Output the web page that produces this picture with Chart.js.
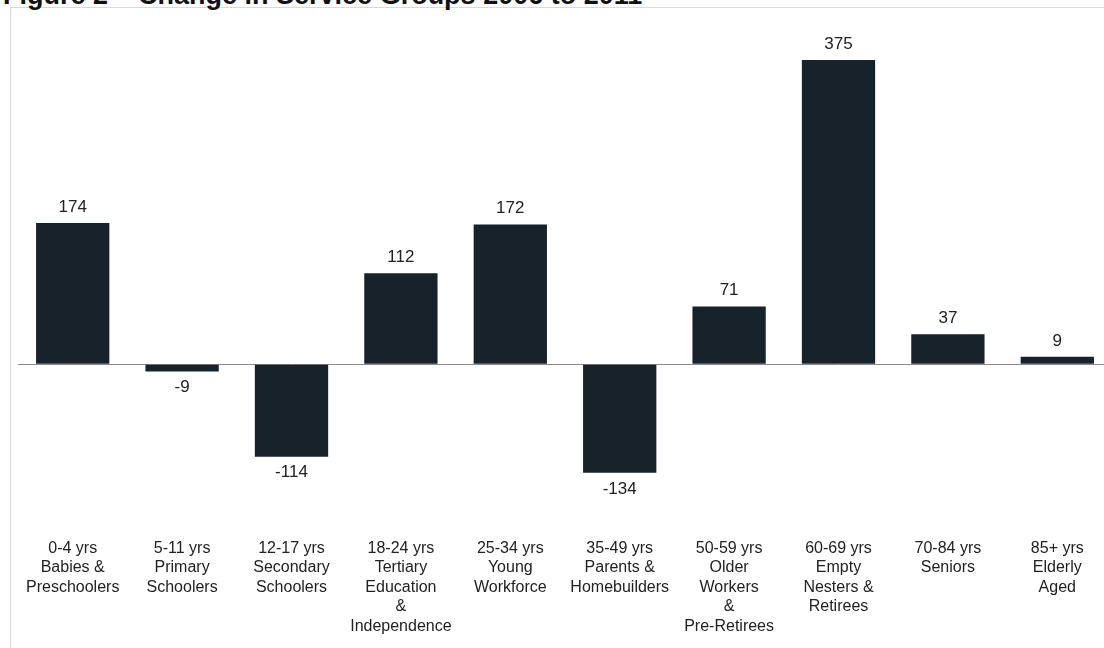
<!DOCTYPE html>
<html>
<head>
<meta charset="utf-8">
<script src="https://cdn.jsdelivr.net/npm/chart.js@4/dist/chart.umd.min.js"></script>
<style>
  html, body { margin: 0; padding: 0; background: #fff; overflow: hidden; width: 1104px; height: 648px; }
  #title { position: absolute; left: 3px; top: -18px; font: bold 27px/27px "Liberation Sans", Arial, sans-serif; color: #111; white-space: nowrap; }
  #box { position: absolute; left: 10px; top: 7px; width: 1200px; height: 700px; border: 1px solid #d9d9d9; }
  #wrap { position: absolute; left: 0; top: 0; width: 1120px; height: 648px; }
</style>
</head>
<body>
<div id="box"></div>
<div id="title">Figure 2 – Change in Service Groups 2006 to 2011</div>
<div id="wrap"><canvas id="chart"></canvas></div>
<script>
const groups = [
    ['0-4 yrs', 'Babies &', 'Preschoolers'],
    ['5-11 yrs', 'Primary', 'Schoolers'],
    ['12-17 yrs', 'Secondary', 'Schoolers'],
    ['18-24 yrs', 'Tertiary', 'Education', '&', 'Independence'],
    ['25-34 yrs', 'Young', 'Workforce'],
    ['35-49 yrs', 'Parents &', 'Homebuilders'],
    ['50-59 yrs', 'Older', 'Workers', '&', 'Pre-Retirees'],
    ['60-69 yrs', 'Empty', 'Nesters &', 'Retirees'],
    ['70-84 yrs', 'Seniors'],
    ['85+ yrs', 'Elderly', 'Aged']
];
const change = [174, -9, -114, 112, 172, -134, 71, 375, 37, 9];

// value labels above / below each bar
const valueLabels = {
    id: 'valueLabels',
    afterDatasetsDraw(chart) {
        const ctx = chart.ctx;
        const meta = chart.getDatasetMeta(0);
        ctx.save();
        ctx.font = '17px "Liberation Sans", Arial, sans-serif';
        ctx.fillStyle = '#222';
        ctx.textAlign = 'center';
        ctx.textBaseline = 'middle';
        meta.data.forEach((bar, i) => {
            const v = change[i];
            const y = v >= 0 ? bar.y - 16 : bar.y + 16;
            ctx.fillText(String(v), bar.x, y);
        });
        ctx.restore();
    }
};

const chart = new Chart(document.getElementById('chart'), {
    type: 'bar',
    data: {
        labels: groups,
        datasets: [{
            data: change,
            backgroundColor: '#18222a',
            borderWidth: 0,
            categoryPercentage: 1,
            barPercentage: 0.67
        }]
    },
    options: {
        responsive: true,
        maintainAspectRatio: false,
        animation: false,
        layout: { padding: { left: 18, right: 8, top: 21, bottom: 0 } },
        plugins: {
            legend: { display: false },
            tooltip: { enabled: false }
        },
        scales: {
            x: {
                grid: { display: false },
                border: { display: false },
                ticks: {
                    autoSkip: false,
                    maxRotation: 0,
                    padding: 33,
                    color: '#222',
                    font: { family: '"Liberation Sans", Arial, sans-serif', size: 16, lineHeight: 1.21 }
                },
                afterFit: (s) => { s.height = 150; s.paddingLeft = 0; s.paddingRight = 0; }
            },
            y: {
                min: -165,
                max: 423,
                border: { display: false },
                grid: {
                    drawTicks: false,
                    color: (c) => c.tick.value === 0 ? '#8a8a8a' : 'transparent'
                },
                ticks: { display: false, stepSize: 1 },
                afterFit: (s) => { s.width = 0; }
            }
        }
    },
    plugins: [valueLabels]
});
</script>
</body>
</html>
